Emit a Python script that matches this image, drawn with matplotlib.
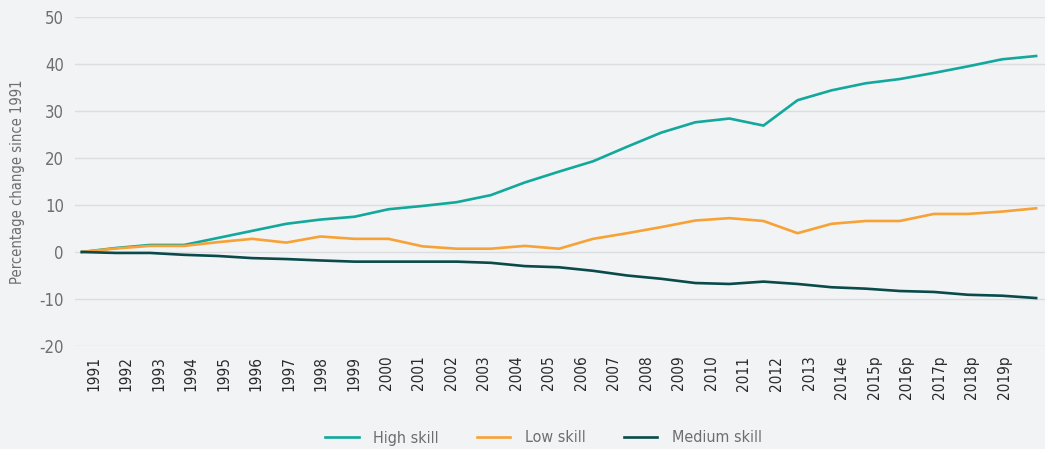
import numpy as np
import matplotlib
matplotlib.use("Agg")
import matplotlib.pyplot as plt

# categorie-labels op de x-as (laatste datapunt heeft geen eigen label)
year_labels = [str(y) for y in range(1991, 2014)] + ["2014e", "2015p", "2016p", "2017p", "2018p", "2019p"]
n_points = 29

high_skill = [0, 0.85, 1.5, 1.5, 3.0, 4.5, 6.0, 6.9, 7.5, 9.1, 9.8, 10.6, 12.1, 14.8, 17.1,
              19.3, 22.4, 25.4, 27.6, 28.4, 26.9, 32.3, 34.4, 35.9, 36.8, 38.1, 39.5, 41.0, 41.7]
low_skill = [0, 0.75, 1.3, 1.3, 2.1, 2.8, 2.0, 3.3, 2.8, 2.8, 1.2, 0.7, 0.7, 1.3, 0.7,
             2.8, 4.0, 5.3, 6.7, 7.2, 6.6, 4.0, 6.0, 6.6, 6.6, 8.1, 8.1, 8.6, 9.3]
medium_skill = [0, -0.2, -0.2, -0.6, -0.85, -1.3, -1.5, -1.8, -2.05, -2.05, -2.05, -2.05, -2.3, -3.0, -3.25,
                -4.0, -5.0, -5.7, -6.6, -6.8, -6.3, -6.8, -7.5, -7.8, -8.3, -8.5, -9.1, -9.3, -9.8]

series = [
    ("High skill", high_skill, "#12A89B"),
    ("Low skill", low_skill, "#F7A236"),
    ("Medium skill", medium_skill, "#0A4A4A"),
]

bg = "#F2F3F5"
plt.rcParams["font.family"] = ["DejaVu Sans"]
plt.rcParams["font.stretch"] = "condensed"
plt.rcParams["axes.unicode_minus"] = False

fig = plt.figure(figsize=(10.45, 4.49), dpi=100, facecolor=bg)
ax = fig.add_axes([75 / 1045, 1 - 346 / 449, 1 - 75 / 1045, (346 - 17) / 449])
ax.set_facecolor(bg)

x = np.arange(n_points)
for name, vals, col in series:
    ax.plot(x, vals, color=col, lw=1.9, label=name, solid_joinstyle="round")

ax.set_ylim(-20, 50)
ax.set_xlim(-0.2, 28.26)
ax.set_yticks(range(-20, 51, 10))
ax.grid(axis="y", color="#DCDDE0", lw=1)
ax.set_axisbelow(True)
for s in ax.spines.values():
    s.set_visible(False)

ax.tick_params(axis="y", length=0, pad=8, labelsize=12, labelcolor="#6E6E6E")
# labels staan in het origineel iets anders verdeeld dan de punten
ax.set_xticks(np.linspace(0.35, 27.06, len(year_labels)))
ax.set_xticklabels(year_labels, rotation=90, fontsize=11, color="#2A2A2A")
ax.tick_params(axis="x", length=0, pad=7)

ax.set_ylabel("Percentage change since 1991", fontsize=10.5, color="#6E6E6E")
ax.yaxis.set_label_coords(-0.0515, 0.5)

fig.legend(loc="center", bbox_to_anchor=(0.52, 1 - 438 / 449), ncol=3, frameon=False,
           fontsize=11.5, handlelength=2.1, handletextpad=0.9, columnspacing=2.4,
           labelcolor="#6E6E6E")

fig.savefig("out.png", dpi=100, facecolor=bg)
